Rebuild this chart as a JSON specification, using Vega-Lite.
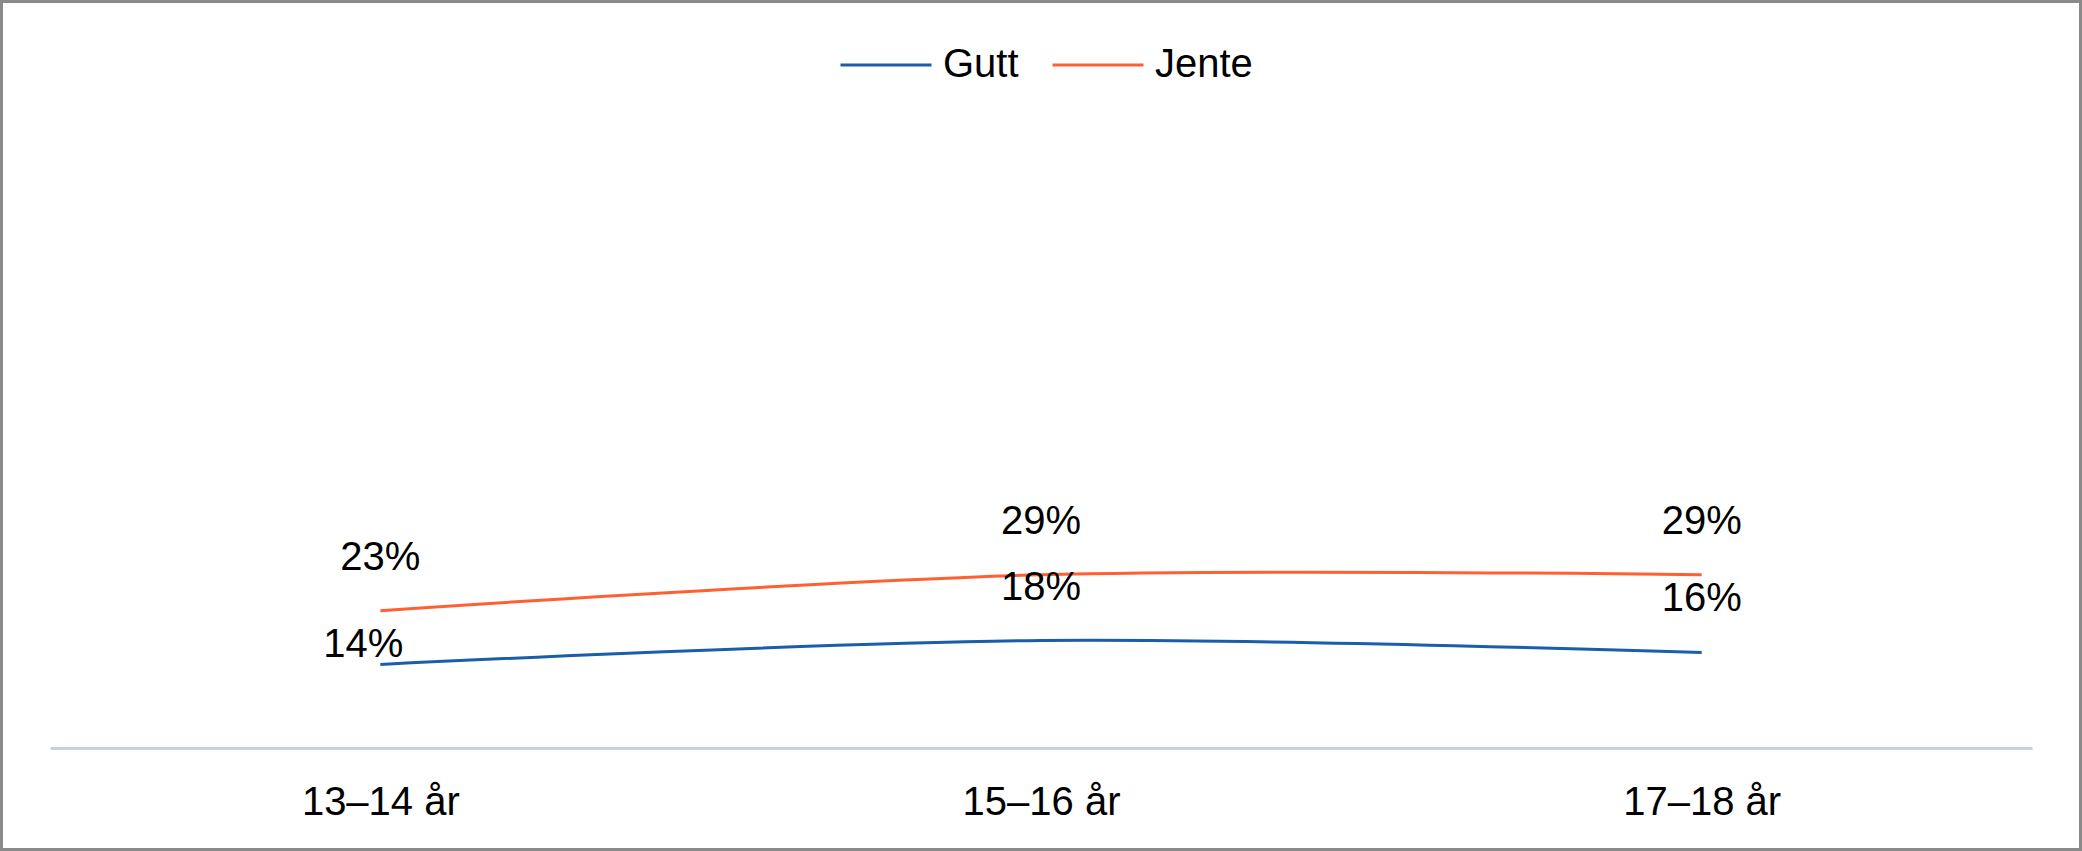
{
  "$schema": "https://vega.github.io/schema/vega-lite/v6.json",
  "width": 2082,
  "height": 851,
  "padding": 0,
  "autosize": {"type": "none"},
  "background": "white",
  "config": {
    "view": {"stroke": "#8a8a8a", "strokeWidth": 6},
    "font": "Liberation Sans"
  },
  "data": {
    "values": [
      {"alder": "13–14 år", "kjonn": "Gutt", "andel": 0.14},
      {"alder": "15–16 år", "kjonn": "Gutt", "andel": 0.18},
      {"alder": "17–18 år", "kjonn": "Gutt", "andel": 0.16},
      {"alder": "13–14 år", "kjonn": "Jente", "andel": 0.23},
      {"alder": "15–16 år", "kjonn": "Jente", "andel": 0.29},
      {"alder": "17–18 år", "kjonn": "Jente", "andel": 0.29}
    ]
  },
  "encoding": {
    "x": {
      "field": "alder",
      "type": "ordinal",
      "sort": null,
      "scale": {"type": "point", "padding": 0.5, "range": [50, 2032]},
      "axis": {
        "title": null,
        "domainColor": "#C3D1E4",
        "domainWidth": 3,
        "ticks": false,
        "grid": false,
        "labelFont": "Liberation Sans",
        "labelFontSize": 40,
        "labelColor": "#000000",
        "labelPadding": 34,
        "labelAngle": 0,
        "offset": -103
      }
    },
    "y": {
      "field": "andel",
      "type": "quantitative",
      "scale": {"domain": [0, 1], "range": [748, 151], "nice": false},
      "axis": null
    },
    "color": {
      "field": "kjonn",
      "type": "nominal",
      "scale": {"domain": ["Gutt", "Jente"], "range": ["#1A5DA8", "#FF5F33"]},
      "legend": {
        "orient": "none",
        "legendX": 839,
        "legendY": 18,
        "direction": "horizontal",
        "title": null,
        "symbolType": "stroke",
        "symbolSize": 8281,
        "symbolStrokeWidth": 3,
        "labelFont": "Liberation Sans",
        "labelFontSize": 40,
        "labelOffset": 10,
        "labelColor": "#000000",
        "columnPadding": 27,
        "padding": 0
      }
    }
  },
  "layer": [
    {"mark": {"type": "line", "interpolate": "catmull-rom", "strokeWidth": 3}},
    {
      "transform": [{"filter": "!(datum.kjonn == 'Gutt' && datum.alder == '13–14 år')"}],
      "mark": {"type": "text", "dy": -41, "align": "center", "baseline": "alphabetic", "fontSize": 40, "font": "Liberation Sans"},
      "encoding": {"text": {"field": "andel", "type": "quantitative", "format": ".0%"}, "color": {"value": "#000000"}}
    },
    {
      "transform": [{"filter": "datum.kjonn == 'Gutt' && datum.alder == '13–14 år'"}],
      "mark": {"type": "text", "dx": -17, "dy": -7, "align": "center", "baseline": "alphabetic", "fontSize": 40, "font": "Liberation Sans"},
      "encoding": {"text": {"field": "andel", "type": "quantitative", "format": ".0%"}, "color": {"value": "#000000"}}
    }
  ]
}
